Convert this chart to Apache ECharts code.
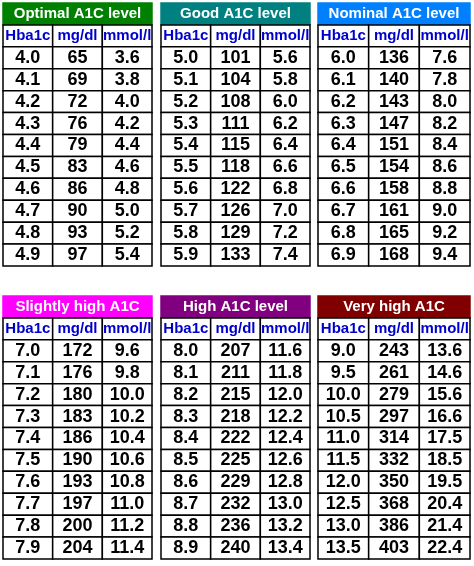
<!DOCTYPE html>
<html>
<head>
<meta charset="utf-8">
<script src="https://cdn.jsdelivr.net/npm/echarts@6/dist/echarts.min.js"></script>
<style>html,body{margin:0;padding:0;background:#fff}#c{width:474px;height:566px}</style>
</head>
<body>
<div id="c"></div>
<script>
const titles = ['Optimal A1C level', 'Good A1C level', 'Nominal A1C level', 'Slightly high A1C', 'High A1C level', 'Very high A1C']
const titleColors = ['#008000', '#008080', '#0080ff', '#ff00ff', '#800080', '#800000']
const columnNames = ['Hba1c', 'mg/dl', 'mmol/l']

const hba1c1 = ['4.0', '4.1', '4.2', '4.3', '4.4', '4.5', '4.6', '4.7', '4.8', '4.9']
const mgdl1 = ['65', '69', '72', '76', '79', '83', '86', '90', '93', '97']
const mmol1 = ['3.6', '3.8', '4.0', '4.2', '4.4', '4.6', '4.8', '5.0', '5.2', '5.4']
const hba1c2 = ['5.0', '5.1', '5.2', '5.3', '5.4', '5.5', '5.6', '5.7', '5.8', '5.9']
const mgdl2 = ['101', '104', '108', '111', '115', '118', '122', '126', '129', '133']
const mmol2 = ['5.6', '5.8', '6.0', '6.2', '6.4', '6.6', '6.8', '7.0', '7.2', '7.4']
const hba1c3 = ['6.0', '6.1', '6.2', '6.3', '6.4', '6.5', '6.6', '6.7', '6.8', '6.9']
const mgdl3 = ['136', '140', '143', '147', '151', '154', '158', '161', '165', '168']
const mmol3 = ['7.6', '7.8', '8.0', '8.2', '8.4', '8.6', '8.8', '9.0', '9.2', '9.4']
const hba1c4 = ['7.0', '7.1', '7.2', '7.3', '7.4', '7.5', '7.6', '7.7', '7.8', '7.9']
const mgdl4 = ['172', '176', '180', '183', '186', '190', '193', '197', '200', '204']
const mmol4 = ['9.6', '9.8', '10.0', '10.2', '10.4', '10.6', '10.8', '11.0', '11.2', '11.4']
const hba1c5 = ['8.0', '8.1', '8.2', '8.3', '8.4', '8.5', '8.6', '8.7', '8.8', '8.9']
const mgdl5 = ['207', '211', '215', '218', '222', '225', '229', '232', '236', '240']
const mmol5 = ['11.6', '11.8', '12.0', '12.2', '12.4', '12.6', '12.8', '13.0', '13.2', '13.4']
const hba1c6 = ['9.0', '9.5', '10.0', '10.5', '11.0', '11.5', '12.0', '12.5', '13.0', '13.5']
const mgdl6 = ['243', '261', '279', '297', '314', '332', '350', '368', '386', '403']
const mmol6 = ['13.6', '14.6', '15.6', '16.6', '17.5', '18.5', '19.5', '20.4', '21.4', '22.4']

const tables = [
  [hba1c1, mgdl1, mmol1], [hba1c2, mgdl2, mmol2], [hba1c3, mgdl3, mmol3],
  [hba1c4, mgdl4, mmol4], [hba1c5, mgdl5, mmol5], [hba1c6, mgdl6, mmol6],
]

const lefts = [3, 161, 318]
const widths = [149, 149, 152]
const tops = [3, 296]
const tableHeight = 263

const rowCats = Array.from({ length: 12 }, (_, i) => String(i))
const grids = [], xAxis = [], yAxis = [], series = []

tables.forEach((cols, t) => {
  const c = t % 3
  const r = Math.floor(t / 3)
  grids.push({ left: lefts[c], top: tops[r], width: widths[c], height: tableHeight })
  xAxis.push({ gridIndex: t, type: 'category', data: ['0', '1', '2'], show: false })
  yAxis.push({ gridIndex: t, type: 'category', data: rowCats, inverse: true, show: false })

  const data = [[1, 0, titles[t]]]
  columnNames.forEach((n, i) => data.push([i, 1, n]))
  cols.forEach((vals, i) => vals.forEach((v, j) => data.push([i, j + 2, v])))

  series.push({
    type: 'custom',
    xAxisIndex: t,
    yAxisIndex: t,
    data,
    animation: false,
    renderItem: (params, api) => {
      const row = api.value(1)
      const center = api.coord([api.value(0), row])
      const size = api.size([1, 1])
      const w = row === 0 ? size[0] * 3 : size[0]
      const x = center[0] - w / 2
      const y = center[1] - size[1] / 2
      const text = data[params.dataIndex][2]
      let fill = '#fff', color = '#000', font = 'bold 18px Arial, "Liberation Sans"'
      if (row === 0) { fill = titleColors[t]; color = '#fff'; font = 'bold 15px Arial, "Liberation Sans"' }
      else if (row === 1) { color = '#0000cc'; font = 'bold 15px Arial, "Liberation Sans"' }
      return {
        type: 'group',
        children: [
          { type: 'rect', shape: { x, y, width: w, height: size[1] },
            style: { fill, stroke: row === 0 ? fill : '#000', lineWidth: 1.5 } },
          { type: 'text', x: x + w / 2, y: y + size[1] / 2,
            style: { text, fill: color, font, align: 'center', verticalAlign: 'middle' } },
        ],
      }
    },
  })
})

const chart = echarts.init(document.getElementById('c'))
chart.setOption({ grid: grids, xAxis, yAxis, series, tooltip: { show: false } })
</script>
</body>
</html>
